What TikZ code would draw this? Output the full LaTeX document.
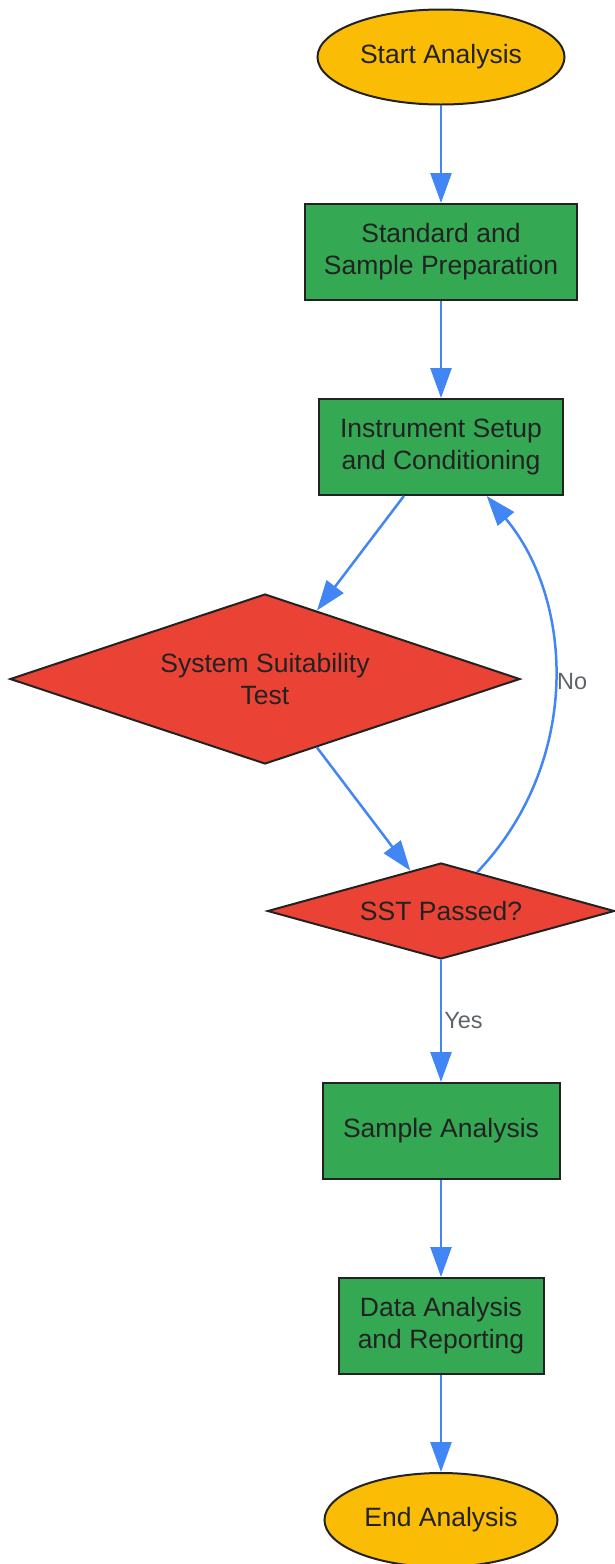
\documentclass[tikz,border=0pt]{standalone}
\usepackage{fontspec}
\setmainfont{Liberation Sans}
\usetikzlibrary{shapes.geometric,arrows.meta}
\definecolor{termfill}{HTML}{FBBC05}
\definecolor{stepfill}{HTML}{34A853}
\definecolor{testfill}{HTML}{EA4335}
\definecolor{edgeblue}{HTML}{4285F4}
\definecolor{inkdark}{HTML}{222222}
\definecolor{labelgray}{HTML}{5F6368}
\begin{document}
\begin{tikzpicture}[
    x=1pt, y=-1pt,
    base/.style={draw=inkdark, line width=2pt, text=inkdark, align=center, inner sep=0pt,
        font=\fontsize{26.5}{32}\selectfont},
    term/.style={base, ellipse, fill=termfill},
    stepbox/.style={base, rectangle, fill=stepfill, minimum height=96pt},
    test/.style={base, diamond, fill=testfill},
    arrow/.style={-{Triangle[length=30pt, width=21pt]}, draw=edgeblue, line width=2.5pt},
    elabel/.style={text=labelgray, inner sep=2pt, font=\fontsize{23.5}{28}\selectfont}
]
    \useasboundingbox (0,0) rectangle (615,1564);

    % Start
    \node[term, minimum width=247pt, minimum height=95pt] (start) at (441,57) {Start Analysis};

    % Vorbereitung
    \node[stepbox, minimum width=272pt] (prep) at (441,252) {Standard and\\Sample Preparation};
    \node[stepbox, minimum width=244pt] (setup) at (441,447) {Instrument Setup\\and Conditioning};

    % Pruefungen
    \node[test, aspect=3, minimum width=510pt, minimum height=170pt] (sst) at (265,679) {System Suitability\\Test};
    \node[test, aspect=3.6, minimum width=347pt, minimum height=96pt] (passed) at (441,911) {SST Passed?};

    % Analyse
    \node[stepbox, minimum width=237pt] (analysis) at (441,1131) {Sample Analysis};
    \node[stepbox, minimum width=205pt] (report) at (441,1326) {Data Analysis\\and Reporting};

    % Ende
    \node[term, minimum width=233pt, minimum height=94pt] (end) at (441,1520) {End Analysis};

    % Pfeile
    \draw[arrow] (start) -- (prep);
    \draw[arrow] (prep) -- (setup);
    \draw[arrow] (setup) -- (sst);
    \draw[arrow] (sst) -- (passed);
    \draw[arrow] (passed.47) .. controls (582,762) and (574,600) .. node[elabel, right] {No} (setup.-47);
    \draw[arrow] (passed) -- node[elabel, right] {Yes} (analysis);
    \draw[arrow] (analysis) -- (report);
    \draw[arrow] (report) -- (end);
\end{tikzpicture}
\end{document}
